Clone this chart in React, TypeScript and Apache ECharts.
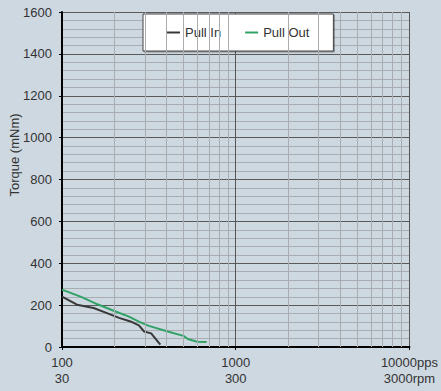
import React, { useEffect, useRef } from "react";
import * as echarts from "echarts";

const pullInFreq = [100, 122, 152, 180, 213, 248, 277, 297, 326, 368];
const pullInTorque = [241, 202, 186, 163, 139, 122, 103, 74, 65, 11];

const pullOutFreq = [100, 130, 160, 200, 243, 277, 316, 411, 500, 530, 600, 680];
const pullOutTorque = [274, 238, 204, 172, 145, 121, 101, 73, 53, 38, 25, 24];

const ppsLabels = ["100", "1000", "10000pps"];
const rpmLabels = ["30", "300", "3000rpm"];
const minorFreqLines = [200, 300, 400, 500, 600, 700, 800, 900, 2000, 3000, 4000, 5000, 6000, 7000, 8000, 9000];

const FONT = "Liberation Sans, Arial, sans-serif";

export default function App() {
  const ref = useRef<HTMLDivElement>(null);
  useEffect(() => {
    if (!ref.current) return;
    const chart = echarts.init(ref.current, undefined, { renderer: "svg" });
    chart.setOption({
      animation: false,
      backgroundColor: "#ced8e1",
      textStyle: { fontFamily: FONT },
      grid: { left: 62, right: 27, top: 12, bottom: 44 },
      legend: {
        data: ["Pull In", "Pull Out"],
        left: 143,
        top: 14,
        padding: [12, 24, 12, 24],
        itemGap: 24,
        itemWidth: 13,
        itemHeight: 2,
        icon: "rect",
        backgroundColor: "#ffffff",
        borderColor: "#444444",
        borderWidth: 1,
        shadowColor: "rgba(0,0,0,0.35)",
        shadowOffsetX: 1,
        shadowOffsetY: 1,
        shadowBlur: 1,
        textStyle: { fontFamily: FONT, fontSize: 13, color: "#333333" },
      },
      xAxis: {
        type: "log",
        logBase: 10,
        min: 100,
        max: 10000,
        axisLine: { show: true, onZero: false, lineStyle: { color: "#000000", width: 2 } },
        axisTick: { show: true, length: 3, lineStyle: { color: "#000000" } },
        axisLabel: {
          margin: 7,
          fontFamily: FONT,
          fontSize: 13,
          fontWeight: "normal",
          color: "#333333",
          lineHeight: 16,
          formatter: (v: number) => {
            const i = Math.round(Math.log10(v)) - 2;
            return (ppsLabels[i] ?? "") + "\n" + (rpmLabels[i] ?? "");
          },
        },
        splitLine: { show: true, lineStyle: { color: "#555555", width: 1 } },
      },
      yAxis: {
        type: "value",
        min: 0,
        max: 1600,
        interval: 200,
        axisLine: { show: true, lineStyle: { color: "#000000", width: 2 } },
        axisTick: { show: true, length: 3, lineStyle: { color: "#000000" } },
        axisLabel: {
          margin: 10,
          fontFamily: FONT,
          fontSize: 13,
          color: "#333333",
          formatter: (v: number) => String(v),
        },
        splitLine: { show: true, lineStyle: { color: "#5a5a5a", width: 1 } },
        minorTick: { show: false, splitNumber: 5 },
        minorSplitLine: { show: true, lineStyle: { color: "#a9adb1", width: 1 } },
      },
      graphic: [
        {
          type: "text",
          x: 8,
          y: 155,
          rotation: Math.PI / 2,
          style: {
            text: "Torque (mNm)",
            fontFamily: FONT,
            fontSize: 13,
            fill: "#333333",
            align: "center",
            verticalAlign: "top",
          },
        },
      ],
      series: [
        {
          name: "minor",
          type: "line",
          z: 1,
          data: [],
          silent: true,
          markLine: {
            silent: true,
            symbol: ["none", "none"],
            label: { show: false },
            lineStyle: { color: "#a9adb1", width: 1, type: "solid" },
            emphasis: { disabled: true },
            data: minorFreqLines.map((v) => ({ xAxis: v })),
          },
        },
        {
          name: "Pull In",
          type: "line",
          z: 3,
          showSymbol: false,
          symbol: "none",
          color: "#383838",
          lineStyle: { color: "#383838", width: 2 },
          data: pullInFreq.map((f, i) => [f, pullInTorque[i]]),
        },
        {
          name: "Pull Out",
          type: "line",
          z: 3,
          showSymbol: false,
          symbol: "none",
          color: "#30a266",
          lineStyle: { color: "#30a266", width: 2 },
          data: pullOutFreq.map((f, i) => [f, pullOutTorque[i]]),
        },
      ],
    });
    return () => chart.dispose();
  }, []);
  return (
    <div
      ref={ref}
      style={{ position: "absolute", left: 0, top: 0, width: 441, height: 391 }}
    />
  );
}
